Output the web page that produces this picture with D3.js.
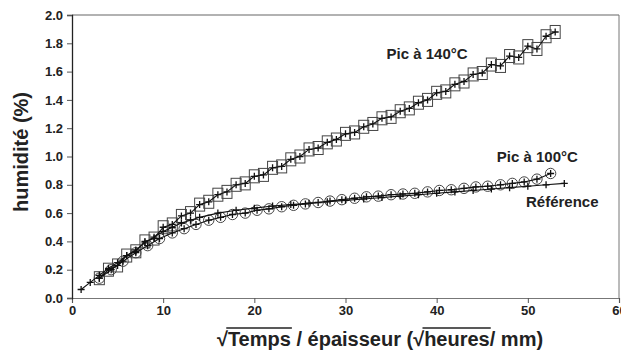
<!DOCTYPE html>
<html><head><meta charset="utf-8">
<script src="https://cdn.jsdelivr.net/npm/d3@7"></script>
<style>
html,body{margin:0;padding:0;background:#fff;}
svg{display:block;font-family:"Liberation Sans",Arial,sans-serif;}
</style></head>
<body><svg id="c" width="621" height="352"></svg>
<script>
const xTicks = [0,10,20,30,40,50,60];
const yTicks = [0,0.2,0.4,0.6,0.8,1.0,1.2,1.4,1.6,1.8,2.0];

const refX = [1,2,3,4,5,6,7,8,9,10,11,12,13,14,16,18,20,22,24,26,28,30,32,34,36,38,40,42,44,46,48,50,52,54];
const refY = [0.06,0.11,0.16,0.21,0.25,0.30,0.34,0.39,0.43,0.47,0.50,0.53,0.55,0.57,0.60,0.62,0.635,0.65,0.66,0.67,0.68,0.69,0.70,0.71,0.72,0.73,0.74,0.75,0.76,0.77,0.78,0.79,0.80,0.81];

const p100X = [3,4.3,5.6,7,8.3,9.6,11,12.3,13.6,15,16.3,17.6,19,20.3,21.6,23,24.3,25.6,27,28.3,29.6,31,32.3,33.6,35,36.3,37.6,39,40.3,41.6,43,44.3,45.6,47,48.3,49.6,51,52.5];
const p100Y = [0.14,0.20,0.26,0.32,0.37,0.42,0.46,0.49,0.52,0.55,0.57,0.59,0.60,0.62,0.63,0.645,0.655,0.665,0.675,0.685,0.695,0.705,0.715,0.72,0.73,0.735,0.74,0.75,0.76,0.765,0.775,0.785,0.79,0.80,0.81,0.82,0.84,0.88];

const p140X = [3,4,5,6,7,8,9,10,11,12,13,14,15,16,17,18,19,20,21,22,23,24,25,26,27,28,29,30,31,32,33,34,35,36,37,38,39,40,41,42,43,44,45,46,47,48,49,50,51,52,53];
const p140Y = [0.14,0.20,0.23,0.30,0.33,0.40,0.42,0.50,0.52,0.58,0.60,0.66,0.68,0.73,0.75,0.80,0.81,0.86,0.87,0.92,0.93,0.98,1.00,1.05,1.06,1.10,1.12,1.16,1.17,1.21,1.23,1.27,1.28,1.32,1.34,1.38,1.40,1.45,1.46,1.51,1.53,1.58,1.59,1.65,1.64,1.71,1.70,1.78,1.76,1.85,1.88];

const labels = [
  {text:"Pic à 140°C", x:34.5, y:1.69},
  {text:"Pic à 100°C", x:46.6, y:0.96},
  {text:"Référence", x:49.8, y:0.645}
];

const svg = d3.select("#c");
const x = d3.scaleLinear().domain([0,60]).range([72,619]);
const y = d3.scaleLinear().domain([0,2]).range([298,15]);

// frame (top, right in grey)
svg.append("line").attr("x1",x(0)).attr("x2",x(60)).attr("y1",y(2)).attr("y2",y(2)).attr("stroke","#666").attr("stroke-width",1.2);
svg.append("line").attr("x1",x(60)).attr("x2",x(60)).attr("y1",y(2)).attr("y2",y(0)).attr("stroke","#777").attr("stroke-width",1);

const xAxis = svg.append("g").attr("transform",`translate(0,${y(0)})`)
  .call(d3.axisBottom(x).tickValues(xTicks).tickFormat(d3.format("d")).tickSize(5).tickPadding(3));
xAxis.select(".domain").attr("stroke","#777").attr("stroke-width",1.2);
xAxis.selectAll(".tick line").attr("stroke","#555");
xAxis.selectAll("text").attr("font-size",13).attr("font-weight","bold").attr("fill","#222")
  .attr("font-family","'Liberation Sans',Arial,sans-serif");

const yAxis = svg.append("g").attr("transform",`translate(${x(0)},0)`)
  .call(d3.axisLeft(y).tickValues(yTicks).tickFormat(d3.format(".1f")).tickSize(5).tickPadding(4));
yAxis.select(".domain").attr("stroke","#222").attr("stroke-width",1.3);
yAxis.selectAll(".tick line").attr("stroke","#555");
yAxis.selectAll("text").attr("font-size",13).attr("font-weight","bold").attr("fill","#222")
  .attr("font-family","'Liberation Sans',Arial,sans-serif");

const line = d3.line().x(d=>x(d[0])).y(d=>y(d[1]));
const ref = refX.map((v,i)=>[v,refY[i]]);
const s100 = p100X.map((v,i)=>[v,p100Y[i]]);
const s140 = p140X.map((v,i)=>[v,p140Y[i]]);

// open markers
svg.append("g").selectAll("rect").data(s140).join("rect")
  .attr("x",d=>x(d[0])-5).attr("y",d=>y(d[1])-6.5).attr("width",10).attr("height",13)
  .attr("fill","none").attr("stroke","#444").attr("stroke-width",1);
svg.append("g").selectAll("circle").data(s100).join("circle")
  .attr("cx",d=>x(d[0])).attr("cy",d=>y(d[1])).attr("r",5.2)
  .attr("fill","none").attr("stroke","#444").attr("stroke-width",1);

// lines with + markers
[ref, s100, s140].forEach(s=>{
  svg.append("path").datum(s).attr("d",line).attr("fill","none").attr("stroke","#111").attr("stroke-width",1.1);
  const g = svg.append("g");
  g.selectAll("path").data(s).join("path")
    .attr("d",d=>`M${x(d[0])-3.5},${y(d[1])}h7M${x(d[0])},${y(d[1])-3.5}v7`)
    .attr("stroke","#111").attr("stroke-width",1.3);
});

// series labels
svg.append("g").selectAll("text").data(labels).join("text")
  .attr("x",d=>x(d.x)).attr("y",d=>y(d.y))
  .attr("font-size",15).attr("font-weight","bold").attr("fill","#222")
  .text(d=>d.text);

// y title
svg.append("text").attr("transform","translate(28,152) rotate(-90)")
  .attr("text-anchor","middle").attr("font-size",20).attr("font-weight","bold").attr("fill","#222")
  .text("humidité (%)");

// x title with radical signs
const xt = svg.append("text").attr("x",380).attr("y",346).attr("text-anchor","middle")
  .attr("font-size",20).attr("font-weight","bold").attr("fill","#222");
const parts = ["√","Temps"," / épaisseur (","√","heures","/ mm)"];
const tsp = parts.map(p=>xt.append("tspan").text(p));
function overline(rad, word){
  const rn = rad.node(), wn = word.node();
  const x0 = rn.getStartPositionOfChar(0).x + rn.getComputedTextLength()*0.85;
  const x1 = wn.getStartPositionOfChar(0).x + wn.getComputedTextLength() + 1;
  svg.append("line").attr("x1",x0).attr("x2",x1).attr("y1",328).attr("y2",328)
    .attr("stroke","#222").attr("stroke-width",1.6);
}
overline(tsp[0],tsp[1]);
overline(tsp[3],tsp[4]);
</script></body></html>
